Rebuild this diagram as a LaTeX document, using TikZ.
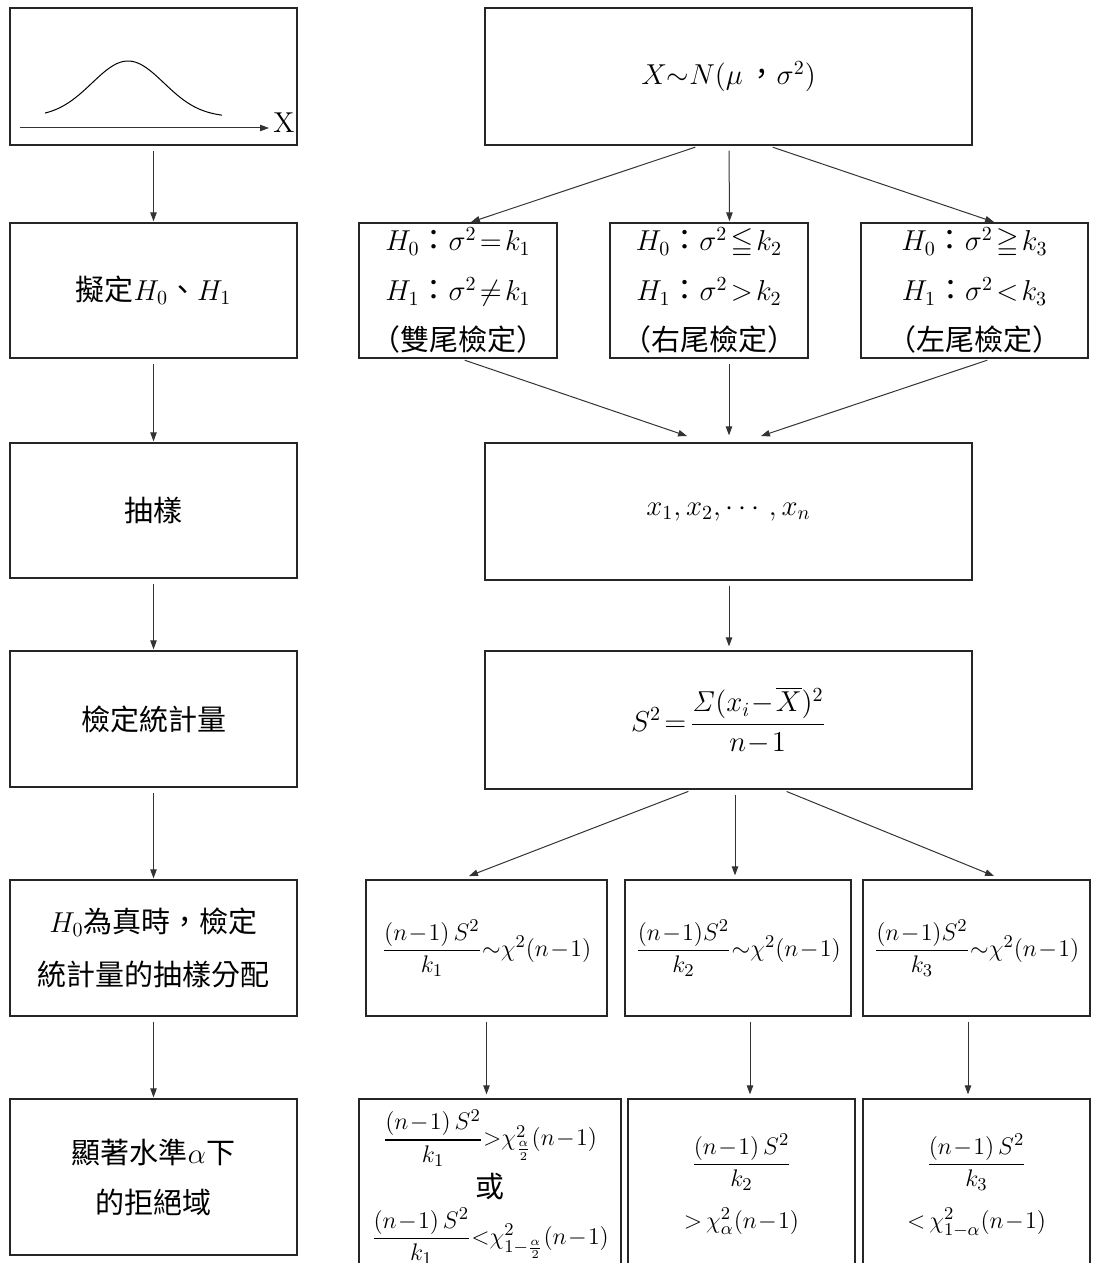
\documentclass[tikz,border=0pt]{standalone}
\usepackage{amsmath, amssymb}
\usepackage[no-math]{fontspec}
\setmainfont{Noto Sans CJK TC}
\usepackage{tikz}
\usetikzlibrary{arrows.meta, calc}

\medmuskip=1mu plus 1mu
\thickmuskip=2mu plus 1mu

\begin{document}
\begin{tikzpicture}[
      x=0.5pt, y=-0.5pt,
      font=\fontsize{14.5}{25}\selectfont,
      box/.style={draw=black!85, line width=0.6pt, align=center, inner sep=0pt},
      eq/.style={font=\fontsize{13}{20}\selectfont},
      sz/.style 2 args={minimum width=#1*0.5pt, minimum height=#2*0.5pt},
      arr/.style={draw=black!80, line width=0.5pt, -{Triangle[length=4.5pt, width=3.2pt]}, shorten <=2.5pt, shorten >=0.5pt}
    ]
    \useasboundingbox (0,0) rectangle (1096,1263);
    \clip (0,0) rectangle (1096,1263);

    % Left column
    \node[box, sz={287}{137}] (curve) at (153.5,76.5) {};
    \node[box, sz={287}{135}] (setH) at (153.5,290.5) {擬定$H_0$、$H_1$};
    \node[box, sz={287}{135}] (samp) at (153.5,510.5) {抽樣};
    \node[box, sz={287}{136}] (stat) at (153.5,719) {檢定統計量};
    \node[box, sz={287}{136}] (sdist) at (153.5,948) {$H_0$為真時，檢定\\[1.5pt]統計量的抽樣分配};
    \node[box, sz={287}{156}] (region) at (153.5,1177) {顯著水準$\alpha$下\\的拒絕域};

    % Normal curve
    \draw[line width=0.5pt] plot[domain=45:222, samples=60, smooth] (\x, {117-56*exp(-((\x-128)^2)/2592)});
    \coordinate (axs) at (20,128);
    \node[inner sep=0pt, anchor=west] (xlab) at (273,123) {$\mathrm{X}$};
    \draw[arr, shorten <=0pt, shorten >=2pt] (axs) -- (axs -| xlab.west);

    % Right column
    \node[box, sz={487}{137}] (pop) at (728.5,76.5) {$X{\sim}N(\mu$\,，$\sigma^2)$};
    \node[box, sz={198}{135}] (hypA) at (458,290.5) {$H_0$：$\sigma^2=k_1$\\$H_1$：$\sigma^2\neq k_1$\\（雙尾檢定）};
    \node[box, sz={198}{135}] (hypB) at (709,290.5) {$H_0$：$\sigma^2\leqq k_2$\\$H_1$：$\sigma^2>k_2$\\（右尾檢定）};
    \node[box, sz={227}{135}] (hypC) at (974.5,290.5) {$H_0$：$\sigma^2\geqq k_3$\\$H_1$：$\sigma^2<k_3$\\（左尾檢定）};
    \node[box, sz={487}{137}] (data) at (728.5,511.5) {$x_1,x_2,\cdots,x_n$};
    \node[box, sz={487}{138}] (sdev) at (728.5,720) {$S^2=\dfrac{\mathit{\Sigma}(x_i-\overline{X})^2}{n-1}$};
    \node[box, eq, sz={241}{136}] (chiA) at (486.5,948) {\raisebox{8pt}{$\dfrac{(n-1)\,S^2}{k_1}{\sim}\chi^2(n-1)$}};
    \node[box, eq, sz={226}{136}] (chiB) at (738,948) {\raisebox{8pt}{$\dfrac{(n-1)S^2}{k_2}{\sim}\chi^2(n-1)$}};
    \node[box, eq, sz={227}{136}] (chiC) at (976.5,948) {\raisebox{8pt}{$\dfrac{(n-1)S^2}{k_3}{\sim}\chi^2(n-1)$}};
    \node[box, eq, sz={262}{176}] (rejA) at (490,1187) {\raisebox{5pt}{\begin{tabular}{@{}c@{}}$\dfrac{(n-1)\,S^2}{k_1}{>}\chi^2_{\frac{\alpha}{2}}(n-1)$\\[6pt]{\fontsize{14.5}{16}\selectfont 或}\\[-1pt]$\dfrac{(n-1)\,S^2}{k_1}{<}\chi^2_{1-\frac{\alpha}{2}}(n-1)$\end{tabular}}};
    \node[box, eq, sz={227}{176}] (rejB) at (741.5,1187) {\raisebox{15pt}{\begin{tabular}{@{}c@{}}$\dfrac{(n-1)\,S^2}{k_2}$\\[9pt]${>}\,\chi^2_{\alpha}(n-1)$\end{tabular}}};
    \node[box, eq, sz={227}{176}] (rejC) at (976.5,1187) {\raisebox{15pt}{\begin{tabular}{@{}c@{}}$\dfrac{(n-1)\,S^2}{k_3}$\\[9pt]${<}\,\chi^2_{1-\alpha}(n-1)$\end{tabular}}};

    % Edges
    \draw[arr] (curve.south) -- (setH.north);
    \draw[arr] (setH.south) -- (samp.north);
    \draw[arr] (samp.south) -- (stat.north);
    \draw[arr] (stat.south) -- (sdist.north);
    \draw[arr] (sdist.south) -- (region.north);

    \draw[arr] ($(pop.south)+(-28.5,0)$) -- ($(hypA.north)+(12,0)$);
    \draw[arr] ($(pop.south)+(0.5,0)$) -- ($(hypB.north)+(20.5,0)$);
    \draw[arr] ($(pop.south)+(39.5,0)$) -- ($(hypC.north)+(20.5,0)$);
    \draw[arr] ($(hypA.south)+(2,0)$) -- ($(data.north)+(-40.5,-6)$);
    \draw[arr] ($(hypB.south)+(20,0)$) -- ($(data.north)+(0.5,-6)$);
    \draw[arr] ($(hypC.south)+(17.5,0)$) -- ($(data.north)+(31.5,-6)$);
    \draw[arr] ($(data.south)+(0.5,0)$) -- ($(sdev.north)+(0.5,-3)$);
    \draw[arr] ($(sdev.south)+(-35.5,0)$) -- ($(chiA.north)+(-18.5,-3)$);
    \draw[arr] ($(sdev.south)+(6.5,0)$) -- ($(chiB.north)+(-3,-3)$);
    \draw[arr] ($(sdev.south)+(53.5,0)$) -- ($(chiC.north)+(18.5,-3)$);
    \draw[arr] (chiA.south) -- ($(rejA.north)+(-3.5,-3)$);
    \draw[arr] ($(chiB.south)+(12,0)$) -- ($(rejB.north)+(8.5,-3)$);
    \draw[arr] ($(chiC.south)+(-8.5,0)$) -- ($(rejC.north)+(-8.5,-3)$);
  \end{tikzpicture}
\end{document}
